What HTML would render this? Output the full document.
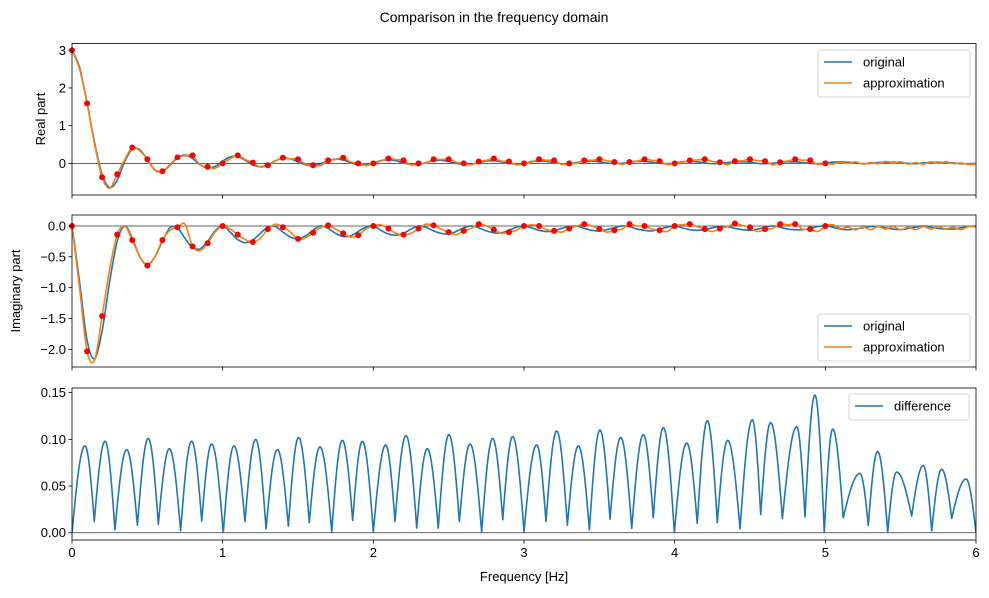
<!DOCTYPE html>
<html><head><meta charset="utf-8"><style>
body{margin:0;background:#fff}
svg text{font-family:"Liberation Sans","DejaVu Sans",sans-serif;fill:#000}
</style></head><body>
<svg id="fig" width="989" height="593" xmlns="http://www.w3.org/2000/svg">
<text x="494" y="22" font-size="14" text-anchor="middle">Comparison in the frequency domain</text>
</svg>
<script>
// ---- data ----
const xTicks=[0,1,2,3,4,5,6];
const realTicks=[3,2,1,0];
const imagTicks=[0.0,-0.5,-1.0,-1.5,-2.0];
const imagTickLabels=["0.0","−0.5","−1.0","−1.5","−2.0"];
const diffTicks=[0.00,0.05,0.10,0.15];
const diffTickLabels=["0.00","0.05","0.10","0.15"];
// sample points at 0.1 Hz (0..5)
const realDots=[3.0,1.59,-0.37,-0.29,0.42,0.11,-0.21,0.16,0.21,-0.09,0.0,0.21,0.02,-0.05,0.15,0.11,-0.05,0.08,0.15,0.0,0.0,0.13,0.08,0.0,0.11,0.11,0.0,0.05,0.13,0.05,0.0,0.11,0.08,0.0,0.08,0.11,0.035,0.035,0.11,0.06,0.0,0.08,0.11,0.03,0.06,0.11,0.06,0.03,0.11,0.08,0.0];
const imagDots=[0,-2.03,-1.46,-0.14,-0.23,-0.64,-0.23,-0.02,-0.33,-0.28,0,-0.14,-0.26,-0.05,-0.02,-0.21,-0.11,0.01,-0.12,-0.15,0,-0.04,-0.14,-0.04,0.01,-0.1,-0.08,0.03,-0.06,-0.1,0,0,-0.08,-0.04,0.03,-0.05,-0.07,0.03,0,-0.07,0,0.03,-0.05,-0.04,0.04,-0.02,-0.05,0.03,0.03,-0.05,0];
// approximation values midway between samples (0.05,0.15,...,4.95) and tail (5.05..6.0 step 0.05)
const realMids=[2.5,0.5,-0.66,0.1,0.33,-0.17,-0.03,0.2,-0.04,-0.13,0.12,0.1,-0.1,0.06,0.12,-0.02,-0.06,0.1,0.04,-0.06,0.06,0.1,-0.04,0.01,0.1,0.03,-0.04,0.08,0.06,-0.04,0.03,0.08,-0.03,0.0,0.08,0.07,-0.03,0.06,0.08,-0.03,0.03,0.09,0.05,-0.04,0.07,0.07,-0.04,0.06,0.08,-0.03];
const realTail=[-0.02,0.03,0.0,0.04,-0.02,0.02,-0.01,0.05,0.01,0.04,-0.02,0.02,-0.02,0.04,0.0,0.04,-0.01,0.01,-0.03,-0.01];
const imagMids=[-1.0,-2.17,-0.7,0.0,-0.5,-0.5,-0.07,0.03,-0.4,-0.1,-0.05,-0.22,-0.2,0.03,-0.1,-0.19,-0.03,-0.05,-0.18,-0.05,0.02,-0.12,-0.12,0.03,-0.05,-0.14,-0.04,0.0,-0.12,-0.07,0.02,-0.06,-0.1,0.0,0.0,-0.1,-0.05,0.0,-0.05,-0.09,0.02,-0.01,-0.09,-0.01,0.01,-0.09,-0.04,0.02,-0.05,-0.09];
const imagTail=[0.02,-0.04,-0.02,-0.06,-0.02,-0.06,-0.01,-0.05,-0.01,-0.06,-0.02,-0.06,-0.01,-0.05,-0.01,-0.05,-0.02,-0.06,-0.01,-0.02];
// original at 0.05 Hz steps (0..6)
const realOrig=[3.00,2.55,1.60,0.55,-0.30,-0.64,-0.45,0.05,0.38,0.36,0.10,-0.18,-0.22,-0.05,0.15,0.22,0.13,-0.04,-0.12,-0.08,0.06,0.17,0.18,0.08,-0.04,-0.09,-0.04,0.07,0.13,0.12,0.04,-0.04,-0.06,-0.01,0.07,0.11,0.09,0.02,-0.04,-0.04,0.01,0.07,0.09,0.07,0.01,-0.03,-0.03,0.02,0.07,0.08,0.05,0.00,-0.03,-0.02,0.02,0.06,0.07,0.04,0.00,-0.02,-0.01,
0.05,0.06,0.05,0.02,-0.01,-0.01,0.02,0.05,0.06,0.04,0.01,-0.01,0.0,0.03,0.05,0.05,0.03,0.0,-0.01,0.01,0.04,0.05,0.04,0.01,-0.01,0.0,0.02,0.04,0.04,0.03,0.0,-0.01,0.0,0.03,0.04,0.04,0.02,0.0,-0.01,0.01,0.03,0.04,0.03,0.01,-0.01,0.0,0.02,0.03,0.03,0.02,0.0,-0.01,0.01,0.02,0.03,0.02,0.01,-0.01,-0.01,0.0];
const imagOrig=[0,-0.9,-1.85,-2.15,-1.7,-0.9,-0.25,0.0,-0.2,-0.5,-0.63,-0.5,-0.25,-0.03,-0.03,-0.2,-0.35,-0.37,-0.25,-0.08,0.0,-0.1,-0.22,-0.27,-0.23,-0.12,-0.02,-0.01,-0.1,-0.18,-0.21,-0.16,-0.07,0.0,-0.04,-0.12,-0.17,-0.16,-0.09,-0.02,0.0,-0.07,-0.13,-0.15,-0.12,-0.05,0.0,-0.02,-0.08,-0.12,-0.13,-0.09,-0.03,0.0,-0.03,-0.08,-0.11,-0.11,-0.07,-0.02,0.0,
-0.03,-0.07,-0.09,-0.08,-0.04,-0.01,0.0,-0.04,-0.07,-0.08,-0.06,-0.03,0.0,-0.01,-0.05,-0.07,-0.08,-0.05,-0.02,0.0,-0.03,-0.06,-0.07,-0.06,-0.03,-0.01,-0.01,-0.04,-0.06,-0.07,-0.05,-0.02,0.0,-0.02,-0.05,-0.06,-0.06,-0.04,-0.01,0.0,-0.02,-0.05,-0.06,-0.05,-0.03,-0.01,-0.01,-0.03,-0.05,-0.06,-0.04,-0.02,0.0,-0.02,-0.04,-0.05,-0.05,-0.03,-0.01,0.0];
// difference: local minima and peaks
const diffMinF=[0,0.148,0.285,0.434,0.573,0.721,0.861,1.004,1.148,1.288,1.436,1.575,1.724,1.863,2.0,2.144,2.288,2.431,2.571,2.719,2.859,3.0,3.146,3.288,3.434,3.571,3.715,3.858,3.998,4.150,4.283,4.434,4.571,4.715,4.865,4.993,5.119,5.285,5.414,5.573,5.706,5.839,6.0];
const diffMinV=[0,0.012,0.003,0.008,0.009,0.002,0.0125,0,0.012,0.004,0.007,0.011,0.001,0.013,0.001,0.012,0.005,0.005,0.012,0.001,0.014,0.001,0.012,0.008,0.003,0.0143,0.0046,0.016,0,0.010,0.011,0.004,0.0196,0.015,0.017,0,0.016,0.008,0.001,0.018,0.002,0.0154,0];
const diffPeakF=[0.086,0.219,0.363,0.506,0.646,0.794,0.927,1.075,1.219,1.363,1.504,1.646,1.794,1.927,2.082,2.217,2.358,2.502,2.642,2.792,2.925,3.084,3.217,3.361,3.504,3.642,3.792,3.925,4.080,4.217,4.352,4.515,4.637,4.810,4.931,5.049,5.23,5.347,5.473,5.650,5.772,5.934];
const diffPeakV=[0.093,0.098,0.089,0.101,0.090,0.098,0.095,0.093,0.100,0.089,0.102,0.092,0.099,0.098,0.094,0.104,0.090,0.105,0.095,0.101,0.103,0.094,0.109,0.093,0.110,0.102,0.105,0.1125,0.096,0.120,0.099,0.121,0.118,0.1135,0.1475,0.111,0.0635,0.087,0.065,0.072,0.068,0.0575];

// ---- helpers ----
const svg=document.getElementById('fig');
const NS='http://www.w3.org/2000/svg';
const X0=72,X1=976;
function xs(f){return X0+(f-0)/(6-0)*(X1-X0);}
function mk(tag,attrs,parent){const e=document.createElementNS(NS,tag);for(const k in attrs)e.setAttribute(k,attrs[k]);(parent||svg).appendChild(e);return e;}
function smoothPath(pts){
  let d='M'+pts[0][0].toFixed(2)+','+pts[0][1].toFixed(2);
  for(let i=0;i<pts.length-1;i++){
    const p0=pts[Math.max(0,i-1)],p1=pts[i],p2=pts[i+1],p3=pts[Math.min(pts.length-1,i+2)];
    const c1=[p1[0]+(p2[0]-p0[0])/6,p1[1]+(p2[1]-p0[1])/6];
    const c2=[p2[0]-(p3[0]-p1[0])/6,p2[1]-(p3[1]-p1[1])/6];
    d+='C'+c1[0].toFixed(2)+','+c1[1].toFixed(2)+' '+c2[0].toFixed(2)+','+c2[1].toFixed(2)+' '+p2[0].toFixed(2)+','+p2[1].toFixed(2);
  }
  return d;
}
function makeAxis(name,top,bot,ymin,ymax){
  const ys=v=>bot-(v-ymin)/(ymax-ymin)*(bot-top);
  const g=mk('g',{});
  
  
  const cp=mk('clipPath',{id:'clip-'+name},g);
  mk('rect',{x:X0,y:top,width:X1-X0,height:bot-top},cp);
  const plot=mk('g',{'clip-path':'url(#clip-'+name+')'},g);
  return {g,plot,ys,top,bot};
}
function frame(ax,name){
  const r=mk('rect',{x:X0,y:ax.top,width:X1-X0,height:ax.bot-ax.top,fill:'none',stroke:'#000','stroke-width':0.8},ax.g);
  
  
}
function xTicksDraw(ax,labels){
  xTicks.forEach(t=>{
    const x=xs(t);
    mk('line',{x1:x,x2:x,y1:ax.bot,y2:ax.bot+3.5,stroke:'#000','stroke-width':0.8},ax.g);
    if(labels){const tx=mk('text',{x:x,y:ax.bot+17,'font-size':13,'text-anchor':'middle'},ax.g);tx.textContent=t;
      
      }
  });
}
function yTicksDraw(ax,ticks,labels){
  ticks.forEach((t,i)=>{
    const y=ax.ys(t);
    mk('line',{x1:X0-3.5,x2:X0,y1:y,y2:y,stroke:'#000','stroke-width':0.8},ax.g);
    const tx=mk('text',{x:X0-6,y:y+4.5,'font-size':13,'text-anchor':'end'},ax.g);tx.textContent=labels[i];
    
    
  });
}
function zeroLine(ax){mk('line',{x1:X0,x2:X1,y1:ax.ys(0),y2:ax.ys(0),stroke:'#000','stroke-width':0.7,opacity:0.8},ax.plot);}
function series(ax,vals,color,name){
  const pts=vals.map((v,i)=>[xs(i*0.05),ax.ys(v)]);
  const p=mk('path',{d:smoothPath(pts),fill:'none',stroke:color,'stroke-width':1.6,'stroke-linejoin':'round'},ax.plot);
  
  
}
function dots(ax,vals,name){
  vals.forEach((v,i)=>{
    const c=mk('circle',{cx:xs(i*0.1),cy:ax.ys(v),r:3,fill:'#ff0000'},ax.g);
    
    
  });
}
function legend(x,y,entries,name){
  const w=152,h=entries.length*21+5;
  const g=mk('g',{});
  
  
  mk('rect',{x:x,y:y,width:w,height:h,rx:2,fill:'#fff','fill-opacity':0.8,stroke:'#ccc','stroke-width':0.8},g);
  entries.forEach((e,i)=>{
    const yy=y+12+i*21;
    mk('line',{x1:x+6,x2:x+34,y1:yy,y2:yy,stroke:e[1],'stroke-width':1.6},g);
    const t=mk('text',{x:x+45,y:yy+4.5,'font-size':13},g);t.textContent=e[0];
    
    
  });
  return g;
}
function buildApprox(d,m,tail){const out=[];for(let i=0;i<d.length;i++){out.push(d[i]);if(i<m.length)out.push(m[i]);}return out.concat(tail);}

const BLUE='#1f77b4',ORANGE='#ff7f0e';
// ---- panel 1 ----
const a1=makeAxis('real-part-axes',43.5,195,-0.84,3.18);
zeroLine(a1);
series(a1,realOrig,BLUE,'real-original-line');
series(a1,buildApprox(realDots,realMids,realTail),ORANGE,'real-approximation-line');
dots(a1,realDots,'real-sample-point');
frame(a1,'real');xTicksDraw(a1,false);yTicksDraw(a1,realTicks,realTicks.map(String));
legend(818,50,[['original',BLUE],['approximation',ORANGE]],'real-legend');
// ---- panel 2 ----
const a2=makeAxis('imag-part-axes',215,367,-2.286,0.178);
zeroLine(a2);
series(a2,imagOrig,BLUE,'imag-original-line');
series(a2,buildApprox(imagDots,imagMids,imagTail),ORANGE,'imag-approximation-line');
dots(a2,imagDots,'imag-sample-point');
frame(a2,'imag');xTicksDraw(a2,false);yTicksDraw(a2,imagTicks,imagTickLabels);
legend(818,314,[['original',BLUE],['approximation',ORANGE]],'imag-legend');
// ---- panel 3 ----
const a3=makeAxis('difference-axes',388,540,-0.0078,0.155);
zeroLine(a3);
(function(){
  let d='';
  for(let i=0;i<diffPeakF.length;i++){
    const f0=diffMinF[i],v0=diffMinV[i],fp=diffPeakF[i],vp=diffPeakV[i],f1=diffMinF[i+1],v1=diffMinV[i+1];
    const N=14;
    for(let k=0;k<=N;k++){const t=k/N;const f=f0+(fp-f0)*t;const v=v0+(vp-v0)*Math.sin(Math.PI/2*t);
      d+=(d===''?'M':'L')+xs(f).toFixed(2)+','+a3.ys(v).toFixed(2);}
    for(let k=1;k<=N;k++){const t=k/N;const f=fp+(f1-fp)*t;const v=v1+(vp-v1)*Math.cos(Math.PI/2*t);
      d+='L'+xs(f).toFixed(2)+','+a3.ys(v).toFixed(2);}
  }
  const p=mk('path',{d:d,fill:'none',stroke:BLUE,'stroke-width':1.6,'stroke-linejoin':'round'},a3.plot);
  
  
})();
frame(a3,'difference');xTicksDraw(a3,true);yTicksDraw(a3,diffTicks,diffTickLabels);
(function(){const g=legend(849,394,[['difference',BLUE]],'difference-legend');g.firstChild.setAttribute('width',120);})();
// ---- axis labels ----
let t=mk('text',{x:524,y:581,'font-size':13,'text-anchor':'middle'});t.textContent='Frequency [Hz]';


t=mk('text',{x:45,y:119,'font-size':13,'text-anchor':'middle',transform:'rotate(-90 45 119)'});t.textContent='Real part';


t=mk('text',{x:20,y:291,'font-size':13,'text-anchor':'middle',transform:'rotate(-90 20 291)'});t.textContent='Imaginary part';


</script>
</body></html>
